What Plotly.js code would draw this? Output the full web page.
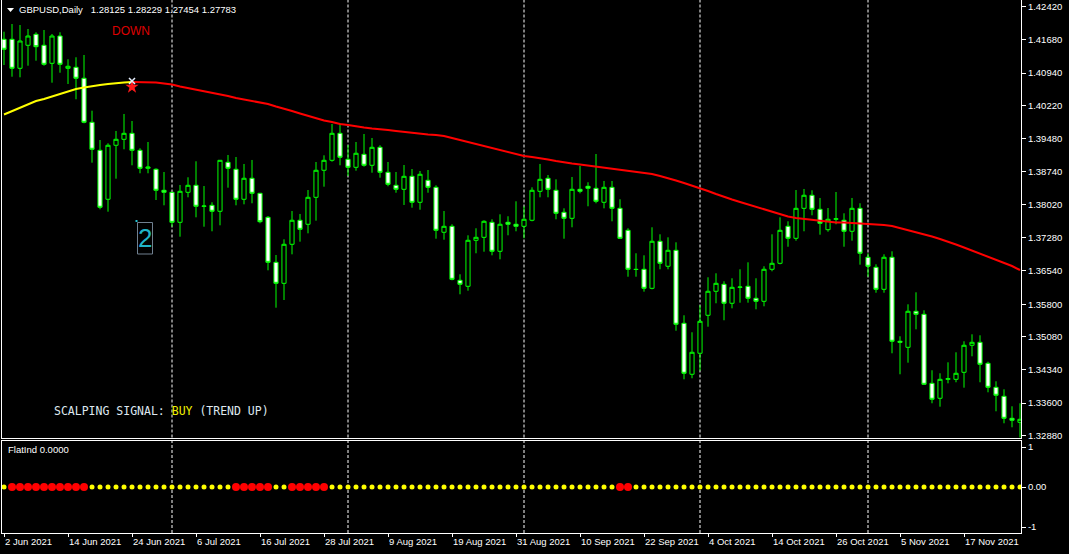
<!DOCTYPE html>
<html><head><meta charset="utf-8">
<script src="https://cdn.plot.ly/plotly-3.0.1.min.js"></script>
<style>html,body{margin:0;padding:0;background:#000;overflow:hidden}#chart{width:1069px;height:554px}</style>
</head><body><div id="chart"></div>
<script>
// ---- data ----
const symbolTitle = 'GBPUSD,Daily\u00a0\u00a0 1.28125 1.28229 1.27454 1.27783';
const tickBars = [0,8,16,24,32,40,48,56,64,72,80,88,96,104,112,120];
const tickLabels = ['2 Jun 2021','14 Jun 2021','24 Jun 2021','6 Jul 2021','16 Jul 2021','28 Jul 2021','9 Aug 2021','19 Aug 2021','31 Aug 2021','10 Sep 2021','22 Sep 2021','4 Oct 2021','14 Oct 2021','26 Oct 2021','5 Nov 2021','17 Nov 2021'];
const monthStartBars = [21,43,65,87,108];
const priceTicks = [1.32880,1.33600,1.34340,1.35080,1.35800,1.36540,1.37280,1.38020,1.38740,1.39480,1.40220,1.40940,1.41680,1.42420];

const openP = [1.41691,1.41691,1.41046,1.41558,1.41802,1.41558,1.41157,1.41764,1.41046,1.41068,
1.40824,1.39845,1.39222,1.38133,1.39334,1.39467,1.39600,1.39222,1.38822,1.38800,
1.38333,1.38288,1.37621,1.38288,1.38444,1.37977,1.37999,1.37866,1.38955,1.38800,
1.38133,1.38600,1.38266,1.37732,1.36731,1.36264,1.37132,1.37666,1.37577,1.38177,
1.38778,1.39000,1.39600,1.39022,1.38844,1.39133,1.38889,1.39289,1.38733,1.38444,
1.38355,1.38644,1.38066,1.38555,1.38399,1.37399,1.37532,1.36331,1.36198,1.37221,
1.37287,1.37621,1.36976,1.37621,1.37577,1.37532,1.37666,1.38310,1.38600,1.38333,
1.37843,1.37710,1.38355,1.38422,1.38377,1.38066,1.38399,1.37932,1.37443,1.36576,
1.36576,1.36153,1.37199,1.36643,1.36998,1.35375,1.34241,1.34708,1.35553,1.36087,
1.36242,1.35820,1.36175,1.36198,1.35931,1.35864,1.36576,1.36709,1.37532,1.37265,
1.37932,1.38222,1.37910,1.37457,1.37688,1.37666,1.37421,1.37932,1.36843,1.36620,
1.36131,1.36843,1.34975,1.34841,1.35642,1.35575,1.34040,1.33707,1.34129,1.34129,
1.34285,1.34886,1.34952,1.34485,1.33951,1.33751,1.33262,1.33173];
const highP = [1.41860,1.42031,1.42009,1.41920,1.41847,1.41898,1.41809,1.41847,1.41246,1.41291,
1.41342,1.40103,1.39451,1.39378,1.39652,1.40030,1.39874,1.39267,1.39407,1.38822,
1.38740,1.38295,1.38451,1.38622,1.38978,1.38428,1.38066,1.39005,1.39118,1.39073,
1.38918,1.39007,1.38275,1.37761,1.36894,1.37243,1.37872,1.37806,1.38339,1.38962,
1.39111,1.39807,1.39823,1.39340,1.39407,1.39585,1.39496,1.39334,1.38962,1.38740,
1.38895,1.38806,1.38762,1.38784,1.38444,1.37872,1.37577,1.36465,1.37332,1.37488,
1.37666,1.37688,1.37799,1.37755,1.38088,1.37977,1.38399,1.38918,1.38673,1.38577,
1.37932,1.38629,1.38873,1.38511,1.39140,1.38540,1.38540,1.38133,1.37488,1.36932,
1.36887,1.37510,1.37354,1.37287,1.37176,1.35553,1.35175,1.35775,1.36398,1.36487,
1.36309,1.36376,1.36576,1.36731,1.36376,1.36643,1.37354,1.37732,1.37643,1.38339,
1.38362,1.38333,1.38162,1.37939,1.38295,1.37821,1.38162,1.38044,1.36932,1.36687,
1.36909,1.36976,1.35086,1.35797,1.36064,1.35664,1.34330,1.34263,1.34507,1.34730,
1.34975,1.35130,1.35108,1.34521,1.34085,1.33907,1.33529,1.33596];
const lowP = [1.41119,1.40859,1.40846,1.41104,1.41215,1.41104,1.40726,1.40948,1.40697,1.40357,
1.39823,1.38947,1.37910,1.37857,1.38591,1.39245,1.38889,1.38711,1.38711,1.38117,
1.37999,1.37523,1.37301,1.38177,1.37732,1.37523,1.37421,1.37554,1.38391,1.37999,
1.38021,1.38044,1.37599,1.36553,1.35722,1.35893,1.36909,1.37190,1.37376,1.37657,
1.38413,1.38969,1.38889,1.38651,1.38769,1.38858,1.38724,1.38613,1.38422,1.38279,
1.38006,1.37946,1.37901,1.38279,1.37256,1.37234,1.36331,1.36020,1.36100,1.36932,
1.36967,1.36887,1.36798,1.37332,1.37421,1.37265,1.37643,1.38177,1.38177,1.37688,
1.37256,1.37510,1.38266,1.37977,1.38044,1.37932,1.37643,1.37256,1.36411,1.36411,
1.36078,1.36131,1.36576,1.36576,1.35210,1.34129,1.34152,1.34321,1.35299,1.35820,
1.35442,1.35708,1.35833,1.35833,1.35686,1.35753,1.36531,1.36687,1.37078,1.37212,
1.37421,1.37777,1.37345,1.37412,1.37577,1.37078,1.37212,1.36678,1.36411,1.36055,
1.36055,1.34708,1.34241,1.34499,1.35241,1.34005,1.33596,1.33520,1.34040,1.34063,
1.33943,1.34641,1.34063,1.33840,1.33418,1.33151,1.33062,1.32800];
const closeP = [1.41469,1.41046,1.41653,1.41764,1.41526,1.41135,1.41764,1.41135,1.41091,1.40824,
1.39845,1.39245,1.37955,1.39334,1.39467,1.39600,1.39222,1.38822,1.38851,1.38333,
1.38288,1.37621,1.38310,1.38444,1.37977,1.37982,1.37866,1.39000,1.38822,1.38133,
1.38600,1.38266,1.37634,1.36731,1.36264,1.37132,1.37666,1.37465,1.38177,1.38778,
1.39000,1.39600,1.39067,1.38844,1.39156,1.38889,1.39289,1.38733,1.38466,1.38355,
1.38644,1.38066,1.38689,1.38399,1.37443,1.37532,1.36353,1.36242,1.37221,1.37287,
1.37643,1.36976,1.37577,1.37577,1.37532,1.37688,1.38333,1.38577,1.38355,1.37821,
1.37710,1.38355,1.38310,1.38377,1.38088,1.38399,1.37932,1.37265,1.36576,1.36571,
1.36153,1.37199,1.36709,1.36998,1.35353,1.34263,1.34730,1.35419,1.36087,1.36264,
1.35820,1.36175,1.36181,1.35931,1.35864,1.36576,1.36709,1.37443,1.37265,1.37932,
1.38222,1.37910,1.37599,1.37688,1.37699,1.37421,1.37932,1.36932,1.36643,1.36131,
1.36843,1.34975,1.34952,1.35642,1.35575,1.34018,1.33685,1.34129,1.34143,1.34263,
1.34886,1.34952,1.34463,1.33951,1.33774,1.33262,1.33218,1.33240];

// coloured moving average (yellow while rising, red while falling)
const maValues = [1.40019,1.40096,1.40174,1.40252,1.40319,1.40363,1.40419,1.40474,1.40530,1.40586,
1.40619,1.40652,1.40675,1.40697,1.40719,1.40730,1.40741,1.40741,1.40741,1.40730,
1.40708,1.40686,1.40641,1.40608,1.40563,1.40530,1.40497,1.40463,1.40430,1.40386,
1.40352,1.40319,1.40285,1.40252,1.40196,1.40152,1.40096,1.40041,1.39985,1.39930,
1.39885,1.39852,1.39807,1.39785,1.39752,1.39729,1.39707,1.39696,1.39674,1.39652,
1.39629,1.39607,1.39585,1.39574,1.39563,1.39540,1.39496,1.39451,1.39407,1.39362,
1.39318,1.39274,1.39218,1.39173,1.39129,1.39096,1.39073,1.39051,1.39018,1.38984,
1.38951,1.38929,1.38907,1.38884,1.38862,1.38840,1.38818,1.38795,1.38773,1.38751,
1.38729,1.38695,1.38651,1.38606,1.38551,1.38495,1.38440,1.38384,1.38317,1.38250,
1.38184,1.38128,1.38073,1.38017,1.37961,1.37906,1.37850,1.37795,1.37750,1.37717,
1.37694,1.37672,1.37650,1.37628,1.37617,1.37617,1.37606,1.37606,1.37594,1.37583,
1.37561,1.37539,1.37494,1.37450,1.37405,1.37361,1.37305,1.37250,1.37194,1.37127,
1.37061,1.36994,1.36927,1.36860,1.36794,1.36727,1.36649,1.36560];
const maTurnBar = 16;
const downSignal = {bar: 16, starPrice: 1.40630, crossPrice: 1.40764};

// FlatInd: value 0 on every bar; 1 = red (flat) dot, 0 = yellow dot
const flatValue = 0;
const flatRed = [0,1,1,1,1,1,1,1,1,1,1,0,0,0,0,0,0,0,0,0,
0,0,0,0,0,0,0,0,0,1,1,1,1,1,0,0,1,1,1,1,
1,0,0,0,0,0,0,0,0,0,0,0,0,0,0,0,0,0,0,0,
0,0,0,0,0,0,0,0,0,0,0,0,0,0,0,0,0,1,1,0,
0,0,0,0,0,0,0,0,0,0,0,0,0,0,0,0,0,0,0,0,
0,0,0,0,0,0,0,0,0,0,0,0,0,0,0,0,0,0,0,0,
0,0,0,0,0,0,0,0];

// ---- chart ----
const bars = openP.map((_, i) => i);
const W = 1069, H = 554, ML = 2, MR = 48, MT = 0, MB = 21;
const PW = W - ML - MR, PH = H - MT - MB;
const px = x => (x - ML) / PW;
const py = y => (PH - (y - MT)) / PH;

const font = 'Liberation Sans, Arial, sans-serif';
const white = '#ffffff';
const green = '#00ff00';

const traces = [
  {type:'candlestick', x:bars, open:openP, high:highP, low:lowP, close:closeP,
   xaxis:'x', yaxis:'y', whiskerwidth:0, hoverinfo:'skip',
   increasing:{line:{color:green, width:1}, fillcolor:'#000000'},
   decreasing:{line:{color:green, width:1}, fillcolor:'#ffffff'}},
  {type:'scatter', mode:'lines', x:bars.slice(0, maTurnBar+1), y:maValues.slice(0, maTurnBar+1),
   xaxis:'x', yaxis:'y', line:{color:'#ffff00', width:2}, hoverinfo:'skip'},
  {type:'scatter', mode:'lines', x:bars.slice(maTurnBar), y:maValues.slice(maTurnBar),
   xaxis:'x', yaxis:'y', line:{color:'#ff0000', width:2}, hoverinfo:'skip'},
  {type:'scatter', mode:'markers', x:[downSignal.bar], y:[downSignal.starPrice],
   xaxis:'x', yaxis:'y', marker:{symbol:'star', size:10, color:'#ff1a1a'}, hoverinfo:'skip'},
  {type:'scatter', mode:'markers', x:[downSignal.bar], y:[downSignal.crossPrice],
   xaxis:'x', yaxis:'y', marker:{symbol:'x-thin', size:6, line:{color:'#e8f0ff', width:1.5}}, hoverinfo:'skip'},
  {type:'scatter', mode:'markers', x:bars.filter(i => !flatRed[i]), y:bars.filter(i => !flatRed[i]).map(() => flatValue),
   xaxis:'x2', yaxis:'y2', marker:{size:5, color:'#ffff00'}, hoverinfo:'skip'},
  {type:'scatter', mode:'markers', x:bars.filter(i => flatRed[i]), y:bars.filter(i => flatRed[i]).map(() => flatValue),
   xaxis:'x2', yaxis:'y2', marker:{size:8, color:'#ff0000'}, hoverinfo:'skip'}
];

const shapes = [];
monthStartBars.forEach(m => {
  shapes.push({type:'line', xref:'x', yref:'y domain', x0:m, x1:m, y0:0, y1:1, layer:'below', line:{color:white, width:1, dash:'3px,2px'}});
  shapes.push({type:'line', xref:'x2', yref:'y2 domain', x0:m, x1:m, y0:0, y1:1, layer:'below', line:{color:white, width:1, dash:'3px,2px'}});
});
// title triangle
shapes.push({type:'path', xref:'paper', yref:'paper',
  path:`M ${px(7)},${py(8)} L ${px(14)},${py(8)} L ${px(10.5)},${py(12)} Z`, fillcolor:white, line:{width:0}});
// box around the "2" label and its anchor dot
shapes.push({type:'rect', xref:'paper', yref:'paper', x0:px(137.5), x1:px(152.5), y0:py(254), y1:py(222.5), line:{color:'#708090', width:1}});
shapes.push({type:'rect', xref:'paper', yref:'paper', x0:px(135.5), x1:px(137.5), y0:py(222), y1:py(220), fillcolor:'#22c0d0', line:{width:0}});

const annotations = [
  {xref:'paper', yref:'paper', x:px(17), y:py(10), xanchor:'left', yanchor:'middle', showarrow:false,
   text:symbolTitle, font:{family:font, size:9.5, color:white}},
  {xref:'paper', yref:'paper', x:px(6), y:py(449), xanchor:'left', yanchor:'middle', showarrow:false,
   text:'FlatInd 0.0000', font:{family:font, size:9.5, color:white}},
  {xref:'paper', yref:'paper', x:px(131), y:py(31), xanchor:'center', yanchor:'middle', showarrow:false,
   text:'DOWN', font:{family:font, size:12, color:'#dd0000'}},
  {xref:'paper', yref:'paper', x:px(52), y:py(411), xanchor:'left', yanchor:'middle', showarrow:false,
   text:'SCALPING SIGNAL: <span style="color:#f0f000">BUY</span> (TREND UP)',
   font:{family:'DejaVu Sans Mono, Liberation Mono, monospace', size:11.5, color:'#dfe8f0'}},
  {xref:'paper', yref:'paper', x:px(145), y:py(238.5), xanchor:'center', yanchor:'middle', showarrow:false,
   text:'2', font:{family:font, size:26, color:'#20b4c8'}}
];

const axBase = {showgrid:false, zeroline:false, fixedrange:true, linecolor:white, linewidth:1,
  tickcolor:white, tickwidth:1, tickfont:{family:font, size:9.5, color:white}};

const layout = {
  width:W, height:H, margin:{l:ML, r:MR, t:MT, b:MB, pad:0},
  paper_bgcolor:'#000000', plot_bgcolor:'#000000', showlegend:false, hovermode:false, dragmode:false,
  boxgap:0.3, boxgroupgap:0.26,
  xaxis:Object.assign({}, axBase, {anchor:'y', domain:[0,1], range:[-0.25,127.125], type:'linear',
    showticklabels:false, ticks:'', showline:true, mirror:true, rangeslider:{visible:false}}),
  yaxis:Object.assign({}, axBase, {anchor:'x', domain:[py(437.5),1], side:'right', range:[1.32835,1.42565],
    tickvals:priceTicks, ticktext:priceTicks.map(v => v.toFixed(5)), ticks:'outside', ticklen:4,
    showline:true, mirror:true}),
  xaxis2:Object.assign({}, axBase, {anchor:'y2', domain:[0,1], range:[-0.25,127.125], type:'linear',
    tickvals:tickBars, ticktext:tickLabels, ticks:'outside', ticklen:3, ticklabelposition:'outside right',
    showline:true, mirror:true, rangeslider:{visible:false}}),
  yaxis2:Object.assign({}, axBase, {anchor:'x2', domain:[0,py(440.5)], side:'right', range:[-1.15,1.1625],
    tickvals:[1,0,-1], ticktext:['1','0.00','-1'], ticks:'outside', ticklen:4, showline:true, mirror:true}),
  shapes:shapes, annotations:annotations
};

Plotly.newPlot('chart', traces, layout, {staticPlot:true, displayModeBar:false});
</script>
</body></html>
